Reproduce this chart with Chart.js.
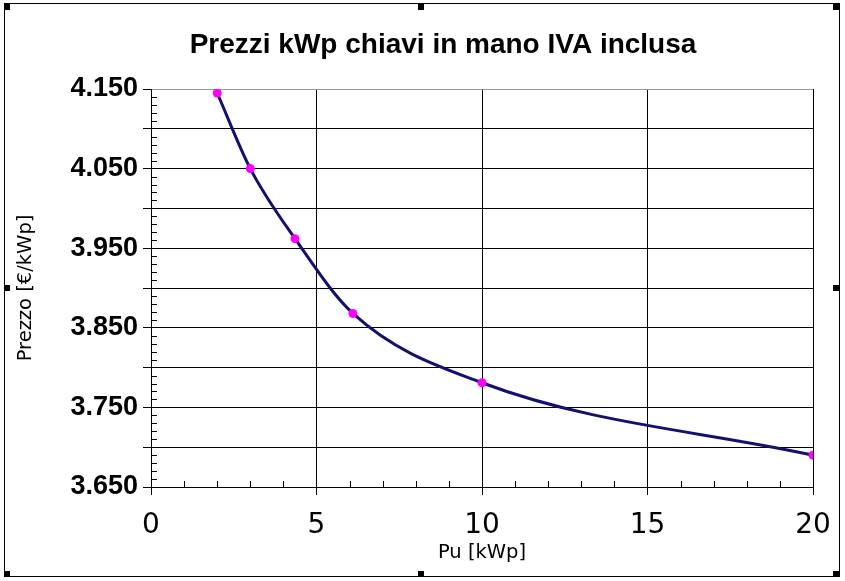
<!DOCTYPE html>
<html>
<head>
<meta charset="utf-8">
<script src="https://cdn.jsdelivr.net/npm/chart.js@4/dist/chart.umd.min.js"></script>
<style>
  html, body { margin: 0; padding: 0; background: #fff; }
  #wrap { width: 845px; height: 581px; }
</style>
</head>
<body>
<div id="wrap"><canvas id="priceChart"></canvas></div>
<script>
// Data
const chartTitle = "Prezzi kWp chiavi in mano IVA inclusa";
const powerKwp = [2, 3, 4.35, 6.1, 10, 20];
const pricePerKwp = [4.145, 4.050, 3.962, 3.868, 3.781, 3.690];
const xTicks = [0, 5, 10, 15, 20];
const yTicks = [3.650, 3.750, 3.850, 3.950, 4.050, 4.150];

// Frame, handles, title and minor ticks
const decorations = {
    id: 'decorations',
    beforeDraw(chart) {
        const c = chart.ctx;
        c.save();
        c.fillStyle = '#fff';
        c.fillRect(0, 0, chart.width, chart.height);
        c.restore();
    },
    afterDraw(chart) {
        const c = chart.ctx;
        const x = chart.scales.x, y = chart.scales.y;
        const area = chart.chartArea;
        c.save();
        c.strokeStyle = '#000';
        c.lineWidth = 1;
        // minor ticks inside the plot
        c.beginPath();
        for (let i = 1; i < 50; i++) {
            if (i % 5 === 0) continue;
            const py = Math.round(y.getPixelForValue(3.65 + i * 0.01)) + 0.5;
            c.moveTo(area.left, py);
            c.lineTo(area.left + 6, py);
        }
        for (let i = 1; i < 20; i++) {
            if (i % 5 === 0) continue;
            const px = Math.round(x.getPixelForValue(i)) + 0.5;
            c.moveTo(px, area.bottom);
            c.lineTo(px, area.bottom - 6);
        }
        c.stroke();
        // outer frame
        c.strokeRect(4.5, 3.5, 835, 573);
        c.fillStyle = '#000';
        [[4, 4], [418, 4], [833, 4], [4, 285], [833, 285], [4, 571], [418, 571], [833, 571]]
            .forEach(([hx, hy]) => c.fillRect(hx, hy, 6, 6));
        // title
        c.font = 'bold 28px "Liberation Sans", Arial, sans-serif';
        c.textAlign = 'center';
        c.textBaseline = 'middle';
        c.fillText(chartTitle, 443, 45);
        c.restore();
    }
};

const ctx = document.getElementById('priceChart').getContext('2d');
const priceChart = new Chart(ctx, {
    type: 'line',
    data: {
        datasets: [{
            label: 'Prezzo',
            data: powerKwp.map((p, i) => ({ x: p, y: pricePerKwp[i] })),
            borderColor: '#12126e',
            borderWidth: 3,
            cubicInterpolationMode: 'monotone',
            fill: false,
            pointRadius: 4.5,
            pointBackgroundColor: '#ff00ff',
            pointBorderWidth: 0
        }]
    },
    options: {
        responsive: true,
        maintainAspectRatio: false,
        animation: false,
        layout: { padding: { left: 8, right: 32, top: 89, bottom: 0 } },
        plugins: {
            legend: { display: false },
            title: { display: false },
            tooltip: { enabled: false }
        },
        scales: {
            x: {
                type: 'linear',
                min: 0,
                max: 20,
                afterFit: s => { s.height = 94; },
                afterBuildTicks: s => { s.ticks = xTicks.map(v => ({ value: v })); },
                ticks: {
                    color: '#000',
                    padding: 14,
                    font: { family: '"DejaVu Sans"', size: 28 },
                    maxRotation: 0
                },
                grid: { color: '#000', tickColor: '#000', tickLength: 8, lineWidth: 1 },
                border: { color: '#000', width: 1 },
                title: {
                    display: true,
                    text: 'Pu [kWp]',
                    color: '#000',
                    font: { family: '"DejaVu Sans"', size: 19.5 },
                    padding: { top: 0, bottom: 16 }
                }
            },
            y: {
                min: 3.65,
                max: 4.15,
                afterFit: s => { s.width = 143; },
                ticks: {
                    stepSize: 0.05,
                    color: '#000',
                    padding: 5,
                    font: { family: '"Liberation Sans", Arial', size: 27, weight: 'bold' },
                    callback: v => yTicks.some(t => Math.abs(t - v) < 1e-6) ? v.toFixed(3) : ''
                },
                grid: {
                    color: c => (c.tick && Math.abs(c.tick.value - 4.15) < 1e-6) ? '#999' : '#000',
                    tickColor: '#000',
                    tickLength: 8,
                    lineWidth: 1
                },
                border: { color: '#000', width: 1 },
                title: {
                    display: true,
                    text: 'Prezzo [€/kWp]',
                    color: '#000',
                    font: { family: '"DejaVu Sans"', size: 19.5 },
                    padding: { top: 6, bottom: 0 }
                }
            }
        }
    },
    plugins: [decorations]
});
</script>
</body>
</html>
